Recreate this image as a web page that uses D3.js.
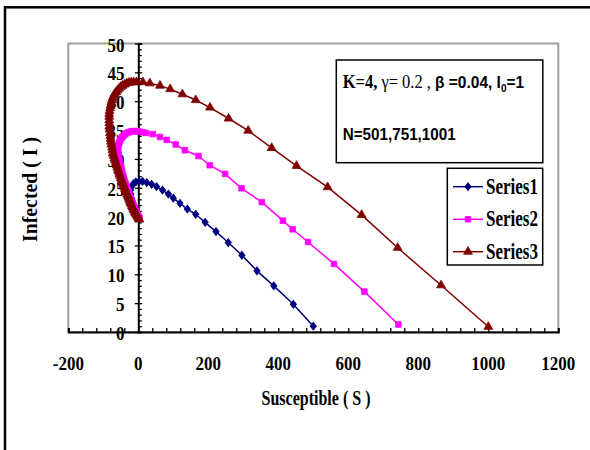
<!DOCTYPE html>
<html><head><meta charset="utf-8">
<script src="https://cdn.jsdelivr.net/npm/d3@7"></script>
<style>body{margin:0;background:#fff}svg{display:block}</style>
</head><body>
<svg id="c" width="590" height="450"></svg>
<script>
// ---- data (S, I) ----
const seriesNames = ["Series1", "Series2", "Series3"];
const seriesColors = ["#000080", "#FF00FF", "#800000"];
const series1 = [
  [500,1.0],[443,4.8],[387,8.0],[339,10.6],[296,13.3],[257,15.5],[222,17.4],[191,19.0],
  [164,20.4],[140,21.3],[119,22.3],[100,23.2],[86,23.9],[69,24.6],[52,25.2],[38,25.6],
  [24,25.9],[12,26.1],[2,26.1],[-7,26.0],[-14,25.7],[-19,25.2],[-22,24.6],[-21,23.9],
  [-19,23.2],[-16,22.5],[-12,21.8],[-8,21.1],[-4,20.5],[0,20.0],[3,19.6]
];
const series2 = [
  [743,1.3],[646,7.0],[559,11.8],[485,15.6],[441,17.8],[413,19.3],[353,22.5],[295,24.9],
  [248,27.4],[204,28.9],[172,30.5],[133,31.5],[107,32.5],[81,33.3],[62,33.8],[41,34.3],
  [22,34.5],[13,34.6],[5,34.7],[0,34.8],[-5,34.8],[-10,34.8],[-14,34.8],[-19,34.8],
  [-23,34.7],[-28,34.6],[-33,34.5],[-37,34.3],[-41,34.1],[-44,33.9],[-47,33.7],[-50,33.5],
  [-52,33.2],[-54,32.9],[-56,32.6],[-57,32.3],[-58,31.9],[-58,31.5],[-58,31.2],[-57,30.8],
  [-56,30.4],[-55,30.0],[-53,29.6],[-52,29.2],[-50,28.8],[-49,28.4],[-47,28.0],[-46,27.6],
  [-44,27.2],[-42,26.8],[-40,26.4],[-38,26.0],[-36,25.7],[-34,25.3],[-32,25.0],[-30,24.6],
  [-28,24.3],[-26,23.9],[-24,23.6],[-22,23.2],[-20,22.9],[-18,22.6],[-16,22.3],[-14,22.0],
  [-12,21.7],[-10,21.4],[-8,21.1],[-6,20.8],[-4,20.6],[-2,20.3],[0,20.1],[2,19.9],[4,19.7]
];
const series3 = [
  [1000,0.9],[865,8.1],[741,14.6],[638,20.3],[541,25.1],[452,28.8],[381,31.9],[314,34.9],
  [258,37.0],[205,38.9],[164,40.2],[126,41.2],[91,42.1],[62,42.7],[33,43.1],[13,43.3],
  [-5,43.3],[-13,43.3],[-20,43.3],[-27,43.2],[-33,43.1],[-39,42.9],[-45,42.7],[-50,42.5],
  [-55,42.2],[-59,41.9],[-63,41.6],[-67,41.3],[-70,41.0],[-73,40.6],[-75,40.2],[-77,39.8],
  [-79,39.3],[-81,38.8],[-82,38.3],[-83,37.8],[-83,37.3],[-83,36.7],[-83,36.2],[-83,35.6],
  [-82,35.1],[-81,34.5],[-80,34.0],[-79,33.5],[-78,33.0],[-77,32.5],[-75,32.0],[-74,31.5],
  [-72,31.0],[-70,30.5],[-68,30.1],[-66,29.7],[-64,29.3],[-62,28.9],[-60,28.5],[-58,28.1],
  [-56,27.8],[-54,27.4],[-52,27.1],[-50,26.7],[-48,26.4],[-46,26.1],[-44,25.8],[-42,25.5],
  [-40,25.2],[-38,24.8],[-36,24.5],[-34,24.2],[-32,23.9],[-30,23.6],[-28,23.3],[-26,23.0],
  [-24,22.7],[-22,22.4],[-20,22.1],[-18,21.8],[-16,21.6],[-14,21.3],[-12,21.1],[-10,20.8],
  [-8,20.6],[-6,20.4],[-4,20.2],[-2,20.0],[0,19.8],[2,19.6],[3,19.5]
];
const allSeries = [series1, series2, series3];
const xTicks = [-200, 0, 200, 400, 600, 800, 1000, 1200];
const yTicks = [0, 5, 10, 15, 20, 25, 30, 35, 40, 45, 50];
const xTitle = "Susceptible ( S )";
const yTitle = "Infected ( I )";
const noteLine2 = "N=501,751,1001";

const svg = d3.select("#c");
const x = d3.scaleLinear().domain([-200, 1200]).range([68.3, 558.3]);
const y = d3.scaleLinear().domain([0, 50]).range([332, 43.5]);
const serif = "'Liberation Serif','Times New Roman',serif";
const sans = "'Liberation Sans',Arial,sans-serif";

// outer chart border
svg.append("rect").attr("x", 5).attr("y", 7.3).attr("width", 620).attr("height", 480)
  .attr("fill", "none").attr("stroke", "#000").attr("stroke-width", 2.5);

// plot area border
svg.append("rect").attr("x", x(-200)).attr("y", y(50))
  .attr("width", x(1200) - x(-200)).attr("height", y(0) - y(50))
  .attr("fill", "none").attr("stroke", "#a0a0a0").attr("stroke-width", 2);

// x axis (at I=0)
const xMinor = d3.range(-200, 1201, 40);
const xAx = svg.append("g").attr("transform", `translate(0,${y(0)})`)
  .call(d3.axisBottom(x).tickValues(xMinor).tickSize(-4).tickFormat(""));
xAx.select(".domain").attr("stroke", "#000").attr("stroke-width", 2);
xAx.selectAll(".tick line").attr("stroke", "#000").attr("stroke-width", 1.3);
svg.append("g").selectAll("text").data(xTicks).join("text")
  .attr("transform", d => `translate(${x(d)},369.5) scale(1,1.15)`)
  .attr("text-anchor", "middle").attr("font-family", serif).attr("font-weight", "bold")
  .attr("font-size", 17).text(d => d);

// y axis (at S=0)
const yMinor = d3.range(0, 51, 1);
const yAx = svg.append("g").attr("transform", `translate(${x(0)},0)`)
  .call(d3.axisRight(y).tickValues(yMinor).tickSize(3.5).tickFormat(""));
yAx.select(".domain").attr("stroke", "#000").attr("stroke-width", 2);
yAx.selectAll(".tick line").attr("stroke", "#000").attr("stroke-width", 1.3);
yAx.selectAll(".tick").filter(d => d % 5 === 0).select("line")
  .attr("x1", -3.5).attr("x2", 4);
svg.append("g").selectAll("text").data(yTicks).join("text")
  .attr("transform", d => `translate(124.5,${y(d) + 8}) scale(1,1.1)`)
  .attr("text-anchor", "end").attr("font-family", serif).attr("font-weight", "bold")
  .attr("font-size", 17).text(d => d);

// axis titles
svg.append("text").attr("transform", "translate(316,404.5) scale(1,1.2)").attr("text-anchor", "middle")
  .attr("font-family", serif).attr("font-weight", "bold").attr("font-size", 17)
  .attr("textLength", 109).attr("lengthAdjust", "spacingAndGlyphs").text(xTitle);
svg.append("text").attr("transform", "translate(36.5,189.5) rotate(-90) scale(1,1.2)")
  .attr("text-anchor", "middle").attr("font-family", serif).attr("font-weight", "bold")
  .attr("font-size", 17).attr("textLength", 105).attr("lengthAdjust", "spacingAndGlyphs")
  .text(yTitle);

// series
const line = d3.line().x(d => x(d[0])).y(d => y(d[1]));
const symTypes = [d3.symbolDiamond, d3.symbolSquare, d3.symbolTriangle];
const symSizes = [17, 31, 34];
const symScale = [" scale(1.35,1)", "", ""];
function marker(sel, i) {
  sel.attr("d", d3.symbol().type(symTypes[i]).size(symSizes[i])())
    .attr("fill", seriesColors[i]).attr("stroke", seriesColors[i]).attr("stroke-width", 0.8);
}
allSeries.forEach((data, i) => {
  const g = svg.append("g");
  g.append("path").datum(data).attr("d", line).attr("fill", "none")
    .attr("stroke", seriesColors[i]).attr("stroke-width", 1.5);
  g.selectAll("path.m").data(data).join("path").attr("class", "m")
    .attr("transform", d => `translate(${x(d[0])},${y(d[1])})` + symScale[i])
    .call(marker, i);
});

// annotation box
svg.append("rect").attr("x", 336.3).attr("y", 60).attr("width", 206.5).attr("height", 102.7)
  .attr("fill", "#fff").attr("stroke", "#000").attr("stroke-width", 1.5);
const t1 = svg.append("text").attr("transform", "translate(342.7,88) scale(1,1.12)")
  .attr("font-weight", "bold").attr("font-size", 15.5);
t1.append("tspan").attr("font-family", serif).attr("font-size", 16.5).text("K=4, ");
t1.append("tspan").attr("font-family", serif).attr("font-weight", "normal").attr("font-size", 16.5).text("\u03b3= 0.2 , ");
t1.append("tspan").attr("font-family", sans).text(" \u03b2 =0.04, I");
t1.append("tspan").attr("font-family", sans).attr("font-size", 10).attr("dy", 4).text("0");
t1.append("tspan").attr("font-family", sans).attr("dy", -4).text("=1");
svg.append("text").attr("transform", "translate(342.7,140) scale(1,1.12)")
  .attr("font-family", sans).attr("font-weight", "bold").attr("font-size", 15)
  .attr("textLength", 113).attr("lengthAdjust", "spacingAndGlyphs").text(noteLine2);

// legend
svg.append("rect").attr("x", 447.3).attr("y", 168.3).attr("width", 95.4).attr("height", 96.7)
  .attr("fill", "#fff").attr("stroke", "#000").attr("stroke-width", 1.5);
const legY = [186.7, 219.3, 251.7];
seriesNames.forEach((name, i) => {
  const g = svg.append("g");
  g.append("line").attr("x1", 453).attr("x2", 483).attr("y1", legY[i]).attr("y2", legY[i])
    .attr("stroke", seriesColors[i]).attr("stroke-width", 1.5);
  g.append("path").attr("transform", `translate(468,${legY[i]})` + symScale[i])
    .call(marker, i);
  g.append("text").attr("transform", `translate(486,${legY[i] + 7}) scale(1,1.3)`)
    .attr("font-family", serif).attr("font-weight", "bold").attr("font-size", 17)
    .attr("textLength", 52).attr("lengthAdjust", "spacingAndGlyphs").text(name);
});
</script>
</body></html>
